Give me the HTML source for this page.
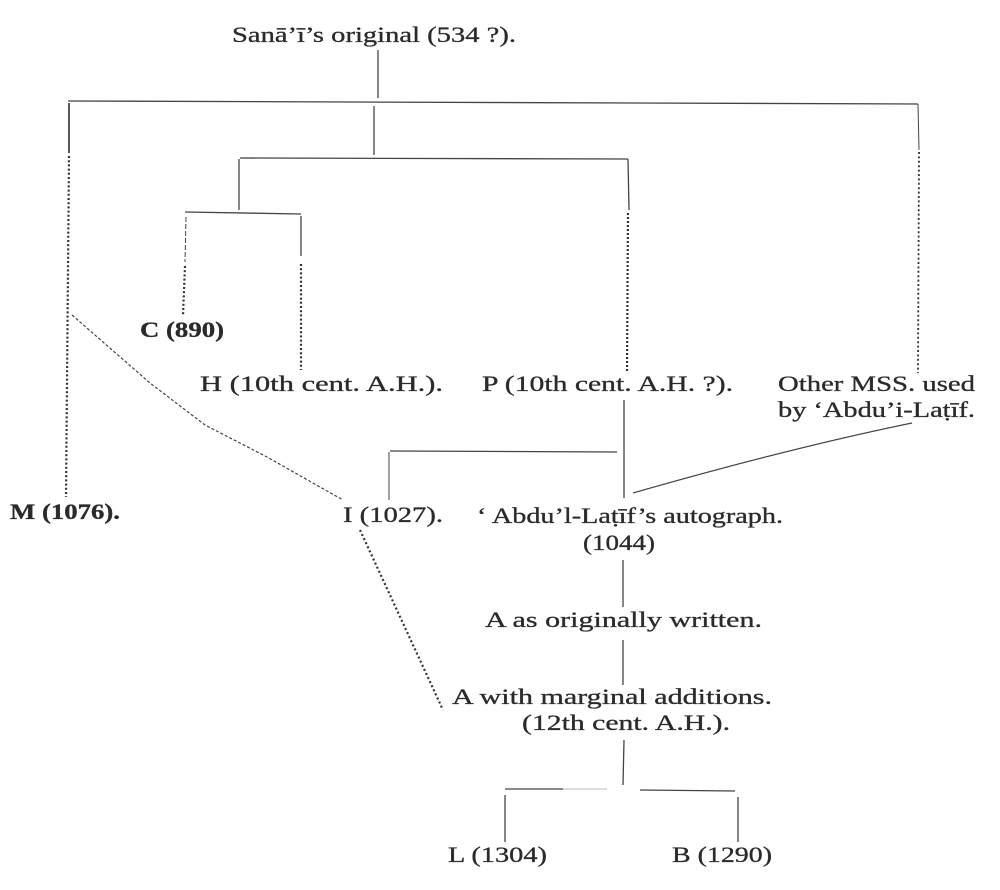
<!DOCTYPE html>
<html>
<head>
<meta charset="utf-8">
<style>
  html, body { margin:0; padding:0; background:#fff; }
  svg { display:block; }
  text { font-family: "Liberation Serif", "DejaVu Serif", serif; font-size:22px; fill:#2a2a2a; stroke:#2a2a2a; stroke-width:0.3; }
</style>
</head>
<body>
<svg width="1000" height="890" viewBox="0 0 1000 890" xmlns="http://www.w3.org/2000/svg">
  <g stroke="#444" fill="none" stroke-width="1.3">
    <!-- title stem -->
    <line x1="378" y1="50" x2="378" y2="98"/>
    <!-- top bar -->
    <line x1="68" y1="101" x2="918" y2="104"/>
    <!-- left M branch -->
    <line x1="69" y1="103" x2="69" y2="153" stroke-width="1.8"/>
    <line x1="69" y1="156" x2="66" y2="497" stroke-width="2.2" stroke-dasharray="2 2.2" stroke="#333"/>
    <!-- middle stem -->
    <line x1="374" y1="106" x2="374" y2="155"/>
    <!-- second bar -->
    <line x1="240" y1="158" x2="628" y2="159"/>
    <line x1="239" y1="159" x2="239" y2="210"/>
    <!-- third bar -->
    <line x1="185" y1="212" x2="301" y2="214"/>
    <!-- C -->
    <line x1="186" y1="217" x2="185" y2="262" stroke-width="1" stroke-dasharray="5 2"/>
    <line x1="185" y1="266" x2="183" y2="315" stroke-width="2.2" stroke-dasharray="2 2.2" stroke="#333"/>
    <!-- H -->
    <line x1="301" y1="216" x2="301" y2="256"/>
    <line x1="301" y1="264" x2="301" y2="370" stroke-width="2.2" stroke-dasharray="2 2.2" stroke="#333"/>
    <!-- P -->
    <line x1="628" y1="159" x2="629" y2="210"/>
    <line x1="628" y1="213" x2="627" y2="372" stroke-width="2.2" stroke-dasharray="2 2" stroke="#333"/>
    <!-- Other MSS -->
    <line x1="918" y1="104" x2="919" y2="150" stroke-width="1"/>
    <line x1="919" y1="152" x2="918" y2="373" stroke-width="1.8" stroke-dasharray="2 2.4" stroke="#333"/>
    <!-- P down -->
    <line x1="624" y1="400" x2="624" y2="498"/>
    <!-- bar to I -->
    <line x1="390" y1="451" x2="617" y2="452"/>
    <line x1="389" y1="452" x2="389" y2="500" stroke-width="1"/>
    <!-- curve from Other MSS -->
    <path d="M912 423 Q 790 448 633 493" stroke-width="1.2"/>
    <!-- M to I dashed -->
    <polyline points="72,315 150,383 205,425 267,457 343,500" stroke-width="1.2" stroke-dasharray="3 2"/>
    <!-- I to A dotted -->
    <line x1="360" y1="530" x2="443" y2="710" stroke-width="2.2" stroke-dasharray="2 2.5" stroke="#333"/>
    <!-- lower stems -->
    <line x1="623" y1="560" x2="623" y2="607"/>
    <line x1="623" y1="640" x2="623" y2="685"/>
    <line x1="624" y1="740" x2="623" y2="785"/>
    <!-- bottom bar -->
    <line x1="505" y1="789" x2="563" y2="789"/>
    <line x1="563" y1="789" x2="607" y2="789" stroke="#bbb" stroke-width="1"/>
    <line x1="640" y1="790" x2="735" y2="791"/>
    <line x1="505" y1="795" x2="505" y2="842"/>
    <line x1="738" y1="797" x2="738" y2="842"/>
  </g>

  <g>
    <text x="232" y="42" textLength="284" lengthAdjust="spacingAndGlyphs">Sanā’ī’s original (534 ?).</text>
    <text x="140" y="337" textLength="84" lengthAdjust="spacingAndGlyphs" font-weight="bold">C (890)</text>
    <text x="200" y="391" textLength="243" lengthAdjust="spacingAndGlyphs">H (10th cent. A.H.).</text>
    <text x="482" y="391" textLength="251" lengthAdjust="spacingAndGlyphs">P (10th cent. A.H. ?).</text>
    <text x="778" y="391" textLength="197" lengthAdjust="spacingAndGlyphs">Other MSS. used</text>
    <text x="778" y="417" textLength="197" lengthAdjust="spacingAndGlyphs">by ‘Abdu’i-Laṭīf.</text>
    <text x="10" y="519" textLength="110" lengthAdjust="spacingAndGlyphs" font-weight="bold">M (1076).</text>
    <text x="343" y="522" textLength="100" lengthAdjust="spacingAndGlyphs">I (1027).</text>
    <text x="477" y="523" textLength="306" lengthAdjust="spacingAndGlyphs">‘ Abdu’l-Laṭīf’s autograph.</text>
    <text x="583" y="550" textLength="72" lengthAdjust="spacingAndGlyphs">(1044)</text>
    <text x="485" y="627" textLength="277" lengthAdjust="spacingAndGlyphs">A as originally written.</text>
    <text x="452" y="704" textLength="320" lengthAdjust="spacingAndGlyphs">A with marginal additions.</text>
    <text x="522" y="730" textLength="208" lengthAdjust="spacingAndGlyphs">(12th cent. A.H.).</text>
    <text x="448" y="862" textLength="99" lengthAdjust="spacingAndGlyphs">L (1304)</text>
    <text x="672" y="862" textLength="100" lengthAdjust="spacingAndGlyphs">B (1290)</text>
  </g>
</svg>
</body>
</html>
